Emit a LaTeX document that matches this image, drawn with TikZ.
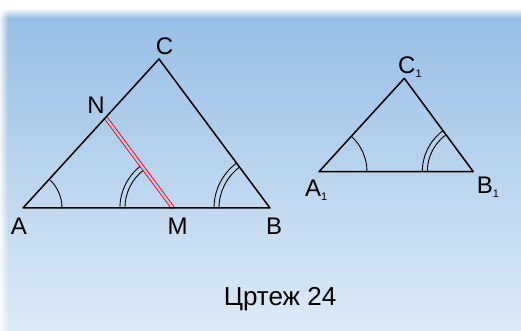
\documentclass[tikz,border=0pt]{standalone}
\usepackage{fontspec}
\setmainfont{Liberation Sans}
\usepackage{xcolor}
\usetikzlibrary{angles,calc}
\definecolor{bgtop}{RGB}{150,190,229}
\definecolor{bgbot}{RGB}{221,234,247}
\definecolor{bgmid}{RGB}{178,207,237}
\newcommand{\idx}[1]{\raisebox{-4pt}{\fontsize{11}{11}\selectfont #1}}

\begin{document}
\begin{tikzpicture}[x=1pt,y=1pt,
    side/.style={line width=1.5pt,line join=round},
    arcline/.style={draw,line width=0.9pt},
    lbl/.style={font=\fontsize{24}{24}\selectfont,inner sep=0pt,anchor=base},
    lbls/.style={lbl,anchor=base west}]
  % background
  \useasboundingbox (0,0) rectangle (521,331);
  \fill[white] (0,0) rectangle (521,331);
  \foreach \i in {0,...,106} {
    \pgfmathsetmacro{\p}{100*\i/106}
    \fill[bgtop!\p!bgbot] (0,3*\i) rectangle (521,3*\i+3.2);
  }
  \foreach \i in {0,...,10} {
    \pgfmathsetmacro{\p}{100*\i/10}
    \fill[white!\p!bgtop] (0,312+\i) rectangle (521,313.2+\i);
  }
  \foreach \i in {0,...,7}
    \fill[white,opacity={0.85-0.11*\i}] (\i,0) rectangle (\i+1,331);

  % big triangle
  \coordinate (A) at (23,123);
  \coordinate (B) at (270,123);
  \coordinate (C) at (159,272);
  \coordinate (N) at ($(A)!0.607!(C)$);
  \coordinate (M) at ($(A)!0.607!(B)$);
  \pic[arcline,angle radius=39pt] {angle=B--A--C};
  \pic[arcline,angle radius=48pt] {angle=N--M--A};
  \pic[arcline,angle radius=53pt] {angle=N--M--A};
  \pic[arcline,angle radius=51pt] {angle=C--B--A};
  \pic[arcline,angle radius=56pt] {angle=C--B--A};
  \draw[red,line width=0.9pt,double=bgmid,double distance=2.2pt] (N) -- (M);
  \draw[side] (A) -- (B) -- (C) -- cycle;

  % small triangle
  \coordinate (A1) at (319,159.3);
  \coordinate (B1) at (473.3,159.3);
  \coordinate (C1) at (404.3,252.7);
  \pic[arcline,angle radius=48pt] {angle=B1--A1--C1};
  \pic[arcline,angle radius=46pt] {angle=C1--B1--A1};
  \pic[arcline,angle radius=51pt] {angle=C1--B1--A1};
  \draw[side] (A1) -- (B1) -- (C1) -- cycle;

  % labels
  \node[lbl] (lA) at (19,96) {A};
  \node[lbl] (lB) at (274,96) {B};
  \node[lbl] (lC) at (164.5,276) {C};
  \node[lbl] (lM) at (177.5,96) {M};
  \node[lbl] (lN) at (96,217) {N};
  \node[lbls] (lA1) at (305,134.3) {A\idx{1}};
  \node[lbls] (lB1) at (476.7,137) {B\idx{1}};
  \node[lbls] (lC1) at (398,257.7) {C\idx{1}};
  \node[lbl,font=\fontsize{26}{26}\selectfont] (cap) at (280,25) {Цртеж 24};
\end{tikzpicture}
\end{document}
